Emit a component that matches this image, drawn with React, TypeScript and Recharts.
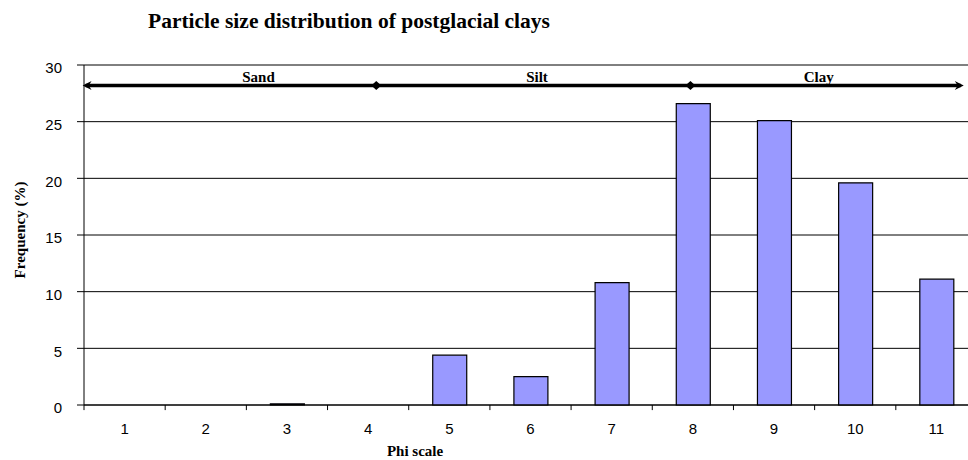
import React from 'react';
import { BarChart, Bar, XAxis, YAxis, CartesianGrid, ReferenceLine, ReferenceDot } from 'recharts';

const phiLabels = ['1', '2', '3', '4', '5', '6', '7', '8', '9', '10', '11'];
const phiValues = [1, 2, 3, 4, 5, 6, 7, 8, 9, 10, 11];
const frequency = [0, 0, 0.1, 0, 4.4, 2.5, 10.8, 26.6, 25.1, 19.6, 11.1];
const yTicks = [0, 5, 10, 15, 20, 25, 30];
const boundaryTicks = [0.5, 1.5, 2.5, 3.5, 4.5, 5.5, 6.5, 7.5, 8.5, 9.5, 10.5, 11.5];
const zoneLevel = 28.2;
const zoneStart = 0.52;
const zoneEnd = 11.3;
const zoneMarkers = [4.1, 7.97];
const zoneNames = ['Sand', 'Silt', 'Clay'];
const zoneLabelX = [2.65, 6.08, 9.55];

const rows = phiLabels.map((phi, i) => ({ phi, pos: phiValues[i], freq: frequency[i] }));

const serif = '"Liberation Serif", "Times New Roman", serif';
const sans = '"Liberation Sans", Arial, sans-serif';

const Diamond = (p: any) => (
  <polygon
    points={`${p.cx - 5},${p.cy} ${p.cx},${p.cy - 4.5} ${p.cx + 5},${p.cy} ${p.cx},${p.cy + 4.5}`}
    fill="#000"
  />
);
const ArrowRight = (p: any) => (
  <polygon
    points={`${p.cx - 6},${p.cy - 4.5} ${p.cx + 3},${p.cy} ${p.cx - 6},${p.cy + 4.5} ${p.cx - 3},${p.cy}`}
    fill="#000"
  />
);
const ArrowLeft = (p: any) => (
  <polygon
    points={`${p.cx + 6},${p.cy - 4.5} ${p.cx - 3},${p.cy} ${p.cx + 6},${p.cy + 4.5} ${p.cx + 3},${p.cy}`}
    fill="#000"
  />
);

export default function App() {
  return (
    <div style={{ position: 'fixed', left: 0, top: 0, width: 968, height: 460, overflow: 'hidden', background: '#fff' }}>
      <div style={{ position: 'absolute', left: 148, top: 9, fontFamily: serif, fontWeight: 'bold', fontSize: 21.5, whiteSpace: 'nowrap', color: '#000' }}>
        Particle size distribution of postglacial clays
      </div>
      <div style={{ position: 'absolute', left: 20, top: 230, width: 0, height: 0 }}>
        <div style={{ position: 'absolute', transform: 'translate(-50%, -50%) rotate(-90deg)', fontFamily: serif, fontWeight: 'bold', fontSize: 15, whiteSpace: 'nowrap', color: '#000' }}>
          Frequency (%)
        </div>
      </div>
      <div style={{ position: 'absolute', left: 415, top: 451, width: 0, height: 0 }}>
        <div style={{ position: 'absolute', transform: 'translate(-50%, -50%)', fontFamily: serif, fontWeight: 'bold', fontSize: 15, whiteSpace: 'nowrap', color: '#000' }}>
          Phi scale
        </div>
      </div>
      <div style={{ position: 'absolute', left: 0, top: 0 }}>
        <BarChart width={990} height={460} data={rows} margin={{ top: 65, right: 13, bottom: 30, left: 0 }}>
          <CartesianGrid xAxisId="cat" vertical={false} stroke="#000" strokeWidth={1} />
          <XAxis
            xAxisId="cat"
            dataKey="phi"
            type="category"
            height={25}
            interval={0}
            tickLine={false}
            tickSize={6}
            tickMargin={12}
            axisLine={{ stroke: '#000', strokeWidth: 1 }}
            tick={{ fill: '#000', fontSize: 15, fontFamily: sans }}
          />
          <XAxis xAxisId="num" dataKey="pos" type="number" domain={[0.5, 11.5]} hide allowDataOverflow />
          <YAxis
            width={84}
            domain={[0, 30]}
            ticks={yTicks}
            interval={0}
            tickSize={7}
            tickMargin={15}
            axisLine={{ stroke: '#000', strokeWidth: 1 }}
            tickLine={{ stroke: '#000', strokeWidth: 1 }}
            tick={{ fill: '#000', fontSize: 15, fontFamily: sans, dy: 3 }}
          />
          <Bar xAxisId="cat" dataKey="freq" fill="#9999FF" stroke="#000" strokeWidth={1.2} barSize={34} isAnimationActive={false} />
          {boundaryTicks.map((b) => (
            <ReferenceLine
              key={`bt${b}`}
              xAxisId="num"
              segment={[{ x: b, y: 0 }, { x: b, y: -0.45 }]}
              stroke="#000"
              strokeWidth={1}
              ifOverflow="visible"
            />
          ))}
          <ReferenceLine
            xAxisId="num"
            segment={[{ x: zoneStart, y: zoneLevel }, { x: zoneEnd, y: zoneLevel }]}
            stroke="#000"
            strokeWidth={3.5}
            ifOverflow="visible"
          />
          <ReferenceDot xAxisId="num" x={zoneStart} y={zoneLevel} r={4} shape={ArrowLeft} ifOverflow="visible" />
          <ReferenceDot xAxisId="num" x={zoneEnd} y={zoneLevel} r={4} shape={ArrowRight} ifOverflow="visible" />
          {zoneMarkers.map((m) => (
            <ReferenceDot key={`zm${m}`} xAxisId="num" x={m} y={zoneLevel} r={4} shape={Diamond} ifOverflow="visible" />
          ))}
          {zoneNames.map((n, i) => (
            <ReferenceDot
              key={`zn${n}`}
              xAxisId="num"
              x={zoneLabelX[i]}
              y={zoneLevel}
              r={0}
              ifOverflow="visible"
              shape={(p: any) => (
                <text x={p.cx} y={p.cy - 3} textAnchor="middle" fontFamily={serif} fontWeight="bold" fontSize={15} fill="#000">
                  {n}
                </text>
              )}
            />
          ))}
        </BarChart>
      </div>
    </div>
  );
}
